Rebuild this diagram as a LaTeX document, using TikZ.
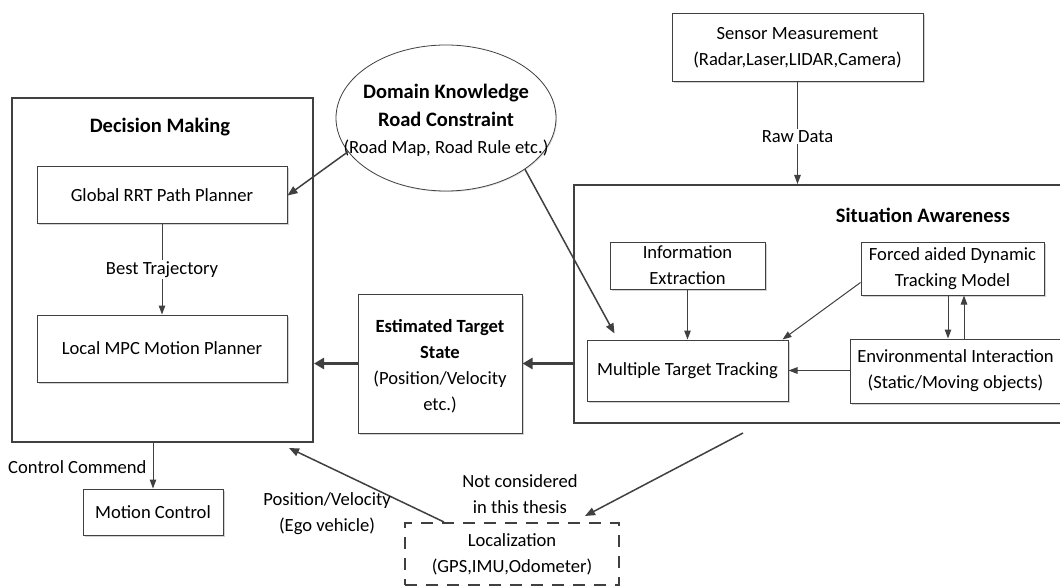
\documentclass[tikz,border=0pt]{standalone}
\usepackage{fontspec}
\setmainfont{Carlito}
\usetikzlibrary{arrows.meta,shapes.geometric,shadows}
\definecolor{ln}{HTML}{404040}
\begin{document}
\begin{tikzpicture}[x=1pt,y=-1pt,
  every node/.style={font=\fontsize{18.6}{26}\selectfont, text=black},
  box/.style={draw=ln, line width=1pt, fill=white, align=center, inner sep=0pt,
    drop shadow={shadow xshift=1.5pt,shadow yshift=-1.5pt,fill=black!35,opacity=0.5}},
  bigbox/.style={draw=ln, line width=2pt, inner sep=0pt},
  title/.style={font=\fontsize{20.5}{26}\selectfont\bfseries},
  arr/.style={draw=ln, line width=1pt, -{Triangle[length=9pt,width=6.5pt]}},
  mid arr/.style={draw=ln, line width=1.5pt, -{Triangle[length=10pt,width=8pt]}},
  heavy/.style={draw=ln, line width=2.6pt, -{Triangle[length=10pt,width=11pt]}},
  lbl/.style={fill=white, inner sep=1.5pt, align=center}
]
\clip (0,0) rectangle (1060,588);
\fill[white] (0,0) rectangle (1060,588);

% Decision making block
\node[bigbox, minimum width=301pt, minimum height=344pt] (dm) at (162.5,270) {};
\node[title] (dmt) at (160,127) {Decision Making};
\node[box, minimum width=250pt, minimum height=57pt] (gl) at (162,195.5) {Global RRT Path Planner};
\node[box, minimum width=250pt, minimum height=67pt] (lm) at (162,348.5) {Local MPC Motion Planner};

% Domain knowledge
\node[draw=ln, line width=0.8pt, ellipse, fill=white, minimum width=220pt, minimum height=146pt, inner sep=0pt,
  drop shadow={shadow xshift=1pt,shadow yshift=-1pt,fill=black!30,opacity=0.4}] (dk) at (446,118) {};
\node[align=center, font=\fontsize{20.5}{28}\selectfont\bfseries] (dkt) at (446,105) {Domain Knowledge\\Road Constraint};
\node[align=center] (dkr) at (446,148) {(Road Map, Road Rule etc.)};

% Sensors
\node[box, minimum width=251pt, minimum height=68pt] (sm) at (797.5,48) {Sensor Measurement\\(Radar,Laser,LIDAR,Camera)};

% Situation awareness block
\node[bigbox, minimum width=492pt, minimum height=238pt] (sa) at (820,304) {};
\node[title] (sat) at (923,215) {Situation Awareness};
\node[box, minimum width=155pt, minimum height=47pt] (ie) at (687.5,265.5) {Information\\Extraction};
\node[box, minimum width=183pt, minimum height=53pt] (ff) at (952.5,268.5) {Forced aided Dynamic\\Tracking Model};
\node[box, minimum width=201pt, minimum height=61pt] (mt) at (687.5,370.5) {Multiple Target Tracking};
\node[box, minimum width=211pt, minimum height=64pt] (ei) at (955.5,371) {Environmental Interaction\\(Static/Moving objects)};

% Estimated target state
\node[box, minimum width=164pt, minimum height=139pt] (es) at (440,363.5) {};
\node[align=center] (est) at (440,366) {\bfseries Estimated Target\\\bfseries State\\\mdseries (Position/Velocity\\\mdseries etc.)};

% Motion control and localization
\node[box, minimum width=140pt, minimum height=46pt] (mc) at (153,512) {Motion Control};
\node[draw=ln, line width=2pt, dash pattern=on 12pt off 9pt, fill=white, align=center, inner sep=0pt,
  minimum width=214pt, minimum height=62pt] (lo) at (512,554) {Localization\\(GPS,IMU,Odometer)};

% Connectors
\draw[arr] (gl.south) -- node[lbl] {Best Trajectory} (lm.north);
\draw[mid arr] (dk.199) -- (gl.east);
\draw[mid arr] (dk.327) -- ([xshift=28pt,yshift=6pt]mt.north west);
\draw[arr] (sm.south) -- node[lbl, pos=0.53] {Raw Data} (sm.south |- sa.north);
\draw[arr] (ie.south) -- (ie.south |- mt.north);
\draw[arr] ([yshift=-14pt]ff.west) -- ([xshift=-6pt]mt.north east);
\draw[arr] ([xshift=-4.5pt]ff.south) -- ([xshift=-4.5pt]ff.south |- ei.north);
\draw[arr] ([xshift=11.5pt]ff.south |- ei.north) -- ([xshift=11.5pt]ff.south);
\draw[arr] (ei.west |- mt.east) -- (mt.east);
\draw[heavy] (sa.west |- es.east) -- (es.east);
\draw[heavy] (es.west) -- (es.west -| dm.east);
\draw[arr] (mc.north |- dm.south) -- node[anchor=east, inner sep=0pt, xshift=-6pt, yshift=-1pt] (cc) {Control Commend} (mc.north);
\draw[mid arr] ([xshift=40pt]lo.north west) -- ([xshift=-25pt,yshift=-5pt]dm.south east);
\coordinate (sab) at (743,433);
\draw[mid arr] (sab) -- ([xshift=-35pt,yshift=6pt]lo.north east);
\node[align=center] (pv) at (327,514) {Position/Velocity\\(Ego vehicle)};
\node[align=center] (nc) at (520,494.5) {Not considered\\in this thesis};
\end{tikzpicture}
\end{document}
